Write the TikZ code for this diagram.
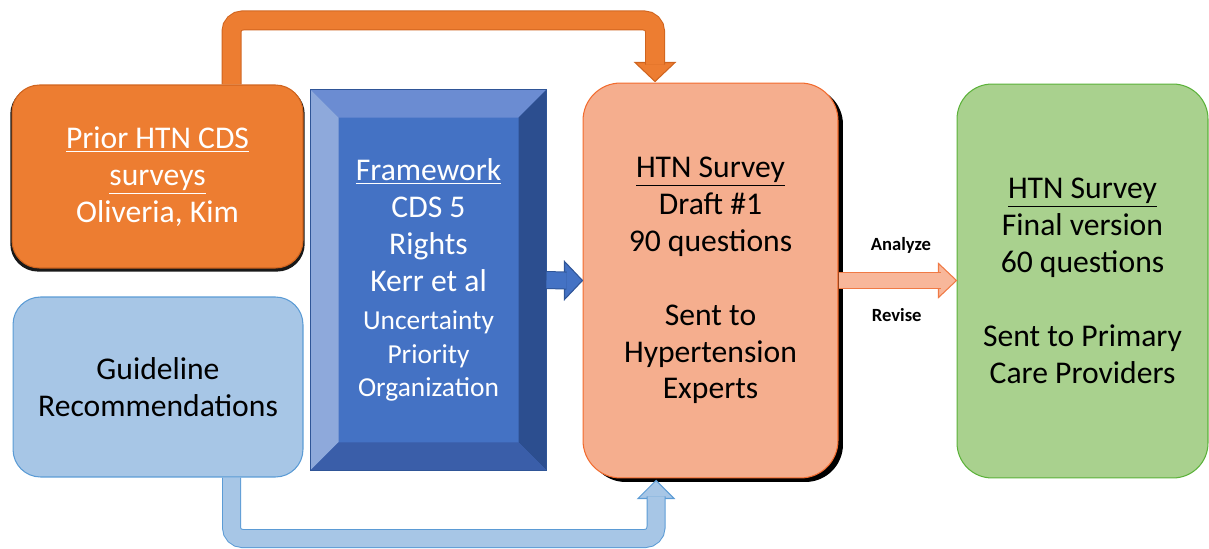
\documentclass[tikz,border=0pt]{standalone}
\usepackage{fontspec}
\setmainfont{Carlito}
\usetikzlibrary{calc, shadows}

\definecolor{priororange}{HTML}{ED7D31}
\definecolor{priorline}{HTML}{D0641E}
\definecolor{guidefill}{HTML}{A7C6E6}
\definecolor{guideline}{HTML}{5B9BD5}
\definecolor{frameface}{HTML}{4472C4}
\definecolor{frametop}{HTML}{6B8CD2}
\definecolor{frameleft}{HTML}{8EA9DB}
\definecolor{frameright}{HTML}{2C4E8F}
\definecolor{framebottom}{HTML}{3A5EA9}
\definecolor{frameline}{HTML}{2F5597}
\definecolor{draftfill}{HTML}{F5AE8E}
\definecolor{draftline}{HTML}{F26B2E}
\definecolor{revfill}{HTML}{F8B79A}
\definecolor{revline}{HTML}{F07A45}
\definecolor{finalfill}{HTML}{A9D18E}
\definecolor{finalline}{HTML}{5CB23A}

\newcommand{\smallline}{\fontsize{15.6}{18.8}\selectfont}

\tikzset{
  box/.style={align=center, inner sep=0pt, line width=0.6pt,
    font=\fontsize{18}{21}\selectfont},
  priorbox/.style={box, rounded corners=0.55cm, minimum width=5.82cm,
    minimum height=3.66cm, fill=priororange, draw=priorline, text=white,
    drop shadow={shadow xshift=0cm, shadow yshift=-0.05cm,
      shadow scale=1.012, fill=black, opacity=0.9}},
  guidebox/.style={box, rounded corners=0.55cm, minimum width=5.8cm,
    minimum height=3.6cm, fill=guidefill, draw=guideline},
  framebox/.style={box, minimum width=4.7cm, minimum height=7.6cm,
    fill=frameface, text=white},
  draftbox/.style={box, rounded corners=0.75cm, minimum width=5.1cm,
    minimum height=7.9cm, fill=draftfill, draw=draftline,
    drop shadow={shadow xshift=0.1cm, shadow yshift=-0.08cm,
      fill=black, opacity=1}},
  finalbox/.style={box, rounded corners=0.7cm, minimum width=5.02cm,
    minimum height=7.88cm, fill=finalfill, draw=finalline},
  lbl/.style={inner sep=0pt, font=\bfseries\fontsize{10.6}{12}\selectfont},
  % thick connectors: outline first, then the body on top
  band/.style={rounded corners=0.22cm, shorten >=-0.04cm},
  priorband/.style={band, line width=0.36cm, draw=priororange,
    preaction={draw=priorline, line width=0.40cm}},
  priorhead/.style={fill=priororange, draw=priorline, line width=0.6pt},
  guideband/.style={band, line width=0.34cm, draw=guidefill,
    preaction={draw=guideline, line width=0.38cm}},
  guidehead/.style={fill=guidefill, draw=guideline, line width=0.6pt},
  frameband/.style={band, line width=0.32cm, draw=frameface,
    preaction={draw=frameline, line width=0.36cm}},
  framehead/.style={fill=frameface, draw=frameline, line width=0.6pt},
  revband/.style={band, line width=0.30cm, draw=revfill,
    preaction={draw=revline, line width=0.34cm}},
  revhead/.style={fill=revfill, draw=revline, line width=0.6pt}
}

\begin{document}
\begin{tikzpicture}[x=0.02cm, y=0.02cm]
\useasboundingbox (0,0) rectangle (1209,548);

% the five blocks
\node[priorbox] at (157.5,371.5) (prior)
  {\underline{Prior HTN CDS}\\\underline{surveys}\\Oliveria, Kim};
\node[guidebox] at (158,161) (guide) {Guideline\\Recommendations};
\node[framebox] at (428.5,268) (frame) {};
\node[draftbox] at (710.5,267.5) (draft)
  {\underline{HTN Survey}\\Draft \#1\\90 questions\\[21pt]Sent to\\Hypertension\\Experts};
\node[finalbox] at (1082.5,267) (final)
  {\underline{HTN Survey}\\Final version\\60 questions\\[21pt]Sent to Primary\\Care Providers};

% bevelled edges of the framework block
\fill[frametop] (frame.north west) -- (frame.north east)
  -- ($(frame.north east)+(-28,-28)$) -- ($(frame.north west)+(28,-28)$) -- cycle;
\fill[frameleft] (frame.north west) -- ($(frame.north west)+(28,-28)$)
  -- ($(frame.south west)+(28,28)$) -- (frame.south west) -- cycle;
\fill[frameright] (frame.north east) -- ($(frame.north east)+(-28,-28)$)
  -- ($(frame.south east)+(-28,28)$) -- (frame.south east) -- cycle;
\fill[framebottom] (frame.south west) -- ($(frame.south west)+(28,28)$)
  -- ($(frame.south east)+(-28,28)$) -- (frame.south east) -- cycle;
\draw[frameline, line width=0.6pt] (frame.north west) rectangle (frame.south east);
\node[box, text=white, align=center] at (frame.center) (frametext)
  {\underline{Framework}\\CDS 5\\Rights\\Kerr et al\\[1pt]%
   \smallline Uncertainty\\[-2pt]\smallline Priority\\[-2pt]\smallline Organization};

% prior surveys feed the draft from above
\coordinate (topfoot) at ($(prior.north)+(74,0)$);
\coordinate (toptip) at ($(draft.north)+(-55.5,1)$);
\filldraw[priorhead] (toptip) -- ++(-20,19) -- ++(40,0) -- cycle;
\draw[priorband] (topfoot) -- ++(0,64) -| ($(toptip)+(0,19)$);

% guidelines feed the draft from below
\coordinate (botfoot) at ($(guide.south)+(73.5,0)$);
\coordinate (bottip) at ($(draft.south)+(-54.5,-2)$);
\filldraw[guidehead] (bottip) -- ++(-18,-18) -- ++(36,0) -- cycle;
\draw[guideband] (botfoot) -- ++(0,-61) -| ($(bottip)+(0,-18)$);

% framework into the draft
\filldraw[framehead] (draft.west) -- ++(-18,19) -- ++(0,-38) -- cycle;
\draw[frameband] (frame.east) -- ($(draft.west)+(-18,0)$);

% draft to final version
\coordinate (revtip) at (draft.east -| final.west);
\filldraw[revhead] (revtip) -- ++(-18,17) -- ++(0,-34) -- cycle;
\draw[revband] (draft.east) -- ($(revtip)+(-18,0)$);
\node[lbl, anchor=west] at ($(draft.east)+(32,35.5)$) (analyze) {Analyze};
\node[lbl, anchor=west] at ($(draft.east)+(33,-34.5)$) (revise) {Revise};
\end{tikzpicture}
\end{document}
